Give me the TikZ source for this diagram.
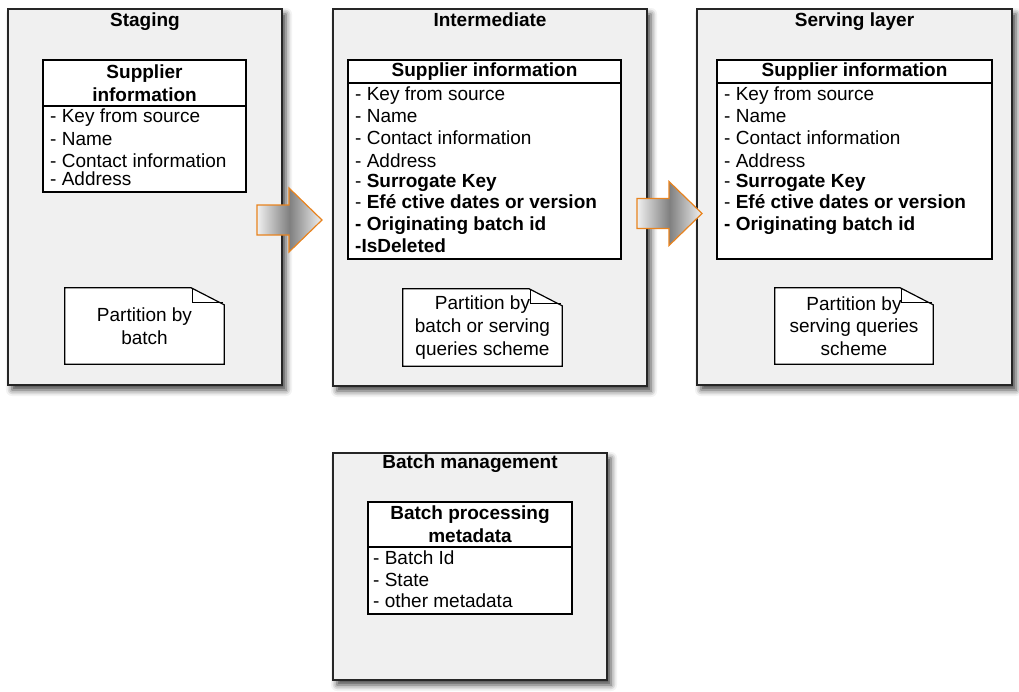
\documentclass[tikz,border=0pt]{standalone}
\usepackage{fontspec}
\setmainfont{Liberation Sans}
\usetikzlibrary{positioning,shadows.blur}
\definecolor{layerfill}{RGB}{240,240,240}
\definecolor{arroworange}{RGB}{232,131,30}
\newcommand{\diagfont}{\fontsize{19}{22.7}\selectfont}
\newcommand{\notefold}[1]{%
  \draw[line width=1.2pt, fill=white] (#1.south west) -- (#1.north west) -- ([xshift=-33pt]#1.north east)
    -- ([yshift=-17pt]#1.north east) -- (#1.south east) -- cycle;
  \draw[line width=1pt] ([xshift=-32pt]#1.north east) -- ++(0,15) -- ([xshift=-1pt,yshift=-15pt]#1.north east);}
\tikzset{
  layer/.style={draw=black!85, line width=1.3pt, fill=layerfill, inner sep=0pt, outer sep=0pt,
    blur shadow={shadow xshift=4pt, shadow yshift=-5pt, shadow blur radius=6pt, shadow opacity=75}},
  layertitle/.style={anchor=base, font=\diagfont\bfseries, inner sep=0pt},
  tablehead/.style={draw=black, line width=1.2pt, fill=white, align=center, font=\diagfont\bfseries, inner sep=0pt, outer sep=0pt},
  tablebody/.style={draw=black, line width=1.2pt, fill=white, inner sep=0pt, outer sep=0pt},
  field/.style={anchor=base west, inner sep=0pt, font=\diagfont},
  note/.style={align=center, font=\diagfont, inner sep=0pt, minimum width=159pt, minimum height=77pt},
  blockarrow/.style={draw=arroworange, line width=1.2pt, left color=layerfill, right color=layerfill, middle color=black!50}
}

\begin{document}
\begin{tikzpicture}[x=1pt, y=-1pt]
\useasboundingbox (0,0) rectangle (1019,691);

% layers
\node[layer, minimum width=274pt, minimum height=376pt] (staging) at (145,197) {};
\node[layer, minimum width=314pt, minimum height=377pt] (inter) at (490,197.5) {};
\node[layer, minimum width=315pt, minimum height=376pt] (serving) at (854.5,197) {};
\node[layer, minimum width=274pt, minimum height=227pt] (batch) at (470,566.5) {};

\node[layertitle] (staging-t) at ([yshift=-17pt]staging.north) {Staging};
\node[layertitle] (inter-t) at ([yshift=-17pt]inter.north) {Intermediate};
\node[layertitle] (serving-t) at ([yshift=-17pt]serving.north) {Serving layer};
\node[layertitle] (batch-t) at ([yshift=-15pt]batch.north) {Batch management};

% block arrows between layers
\coordinate (arr1) at ([xshift=-25pt,yshift=-23pt]staging.east);
\coordinate (arr2) at ([xshift=-10pt,yshift=-16pt]inter.east);
\foreach \a in {arr1,arr2}
  \draw[blockarrow] (\a) ++(0,-15) -- ++(32,0) -- ++(0,-17) -- ++(33,32) -- ++(-33,32) -- ++(0,-17) -- ++(-32,0) -- cycle;

% staging
\node[tablehead, minimum width=203pt, minimum height=46pt] (staging-h) at (144.5,83) {Supplier\\information};
\node[tablebody, minimum width=203pt, minimum height=86pt, below=0pt of staging-h] (staging-b) {};
\foreach \dy/\fld [count=\i] in {16/- Key from source, 39/- Name, 61/- Contact information, 79/- Address}
  \node[field] (staging-f\i) at ([xshift=7pt,yshift=-\dy pt]staging-b.north west) {\fld};

% intermediate
\node[tablehead, minimum width=273pt, minimum height=23pt] (inter-h) at (484.5,71.5) {Supplier information};
\node[tablebody, minimum width=273pt, minimum height=176pt, below=0pt of inter-h] (inter-b) {};
\foreach \dy/\fld [count=\i] in {17/- Key from source, 39/- Name, 61/- Contact information, 84/- Address,
    104/- \textbf{Surrogate Key}, 125/- \textbf{Efé ctive dates or version}, 147/\textbf{- Originating batch id},
    169/\textbf{-IsDeleted}}
  \node[field] (inter-f\i) at ([xshift=7pt,yshift=-\dy pt]inter-b.north west) {\fld};

% serving layer
\node[tablehead, minimum width=275pt, minimum height=23pt] (serving-h) at (854.5,71.5) {Supplier information};
\node[tablebody, minimum width=275pt, minimum height=176pt, below=0pt of serving-h] (serving-b) {};
\foreach \dy/\fld [count=\i] in {17/- Key from source, 39/- Name, 61/- Contact information, 84/- Address,
    104/- \textbf{Surrogate Key}, 125/- \textbf{Efé ctive dates or version}, 147/\textbf{- Originating batch id}}
  \node[field] (serving-f\i) at ([xshift=7pt,yshift=-\dy pt]serving-b.north west) {\fld};

% batch management
\node[tablehead, minimum width=204pt, minimum height=45pt] (batch-h) at (470,524.5) {Batch processing\\metadata};
\node[tablebody, minimum width=204pt, minimum height=67pt, below=0pt of batch-h] (batch-b) {};
\foreach \dy/\fld [count=\i] in {17/- Batch Id, 39/- State, 60/- other metadata}
  \node[field] (batch-f\i) at ([xshift=5pt,yshift=-\dy pt]batch-b.north west) {\fld};

% partition notes
\node[note, minimum width=159pt, minimum height=76pt] (staging-n) at (144.5,326) {};
\node[note] (inter-n) at (482.5,327.5) {};
\node[note, minimum width=158pt, minimum height=76pt] (serving-n) at (854,326) {};
\notefold{staging-n}
\notefold{inter-n}
\notefold{serving-n}
\node[note] (staging-nt) at (staging-n) {Partition by\\batch};
\node[note] (inter-nt) at (inter-n) {Partition by\\batch or serving\\queries scheme};
\node[note] (serving-nt) at (serving-n) {Partition by\\serving queries\\scheme};
\end{tikzpicture}
\end{document}
